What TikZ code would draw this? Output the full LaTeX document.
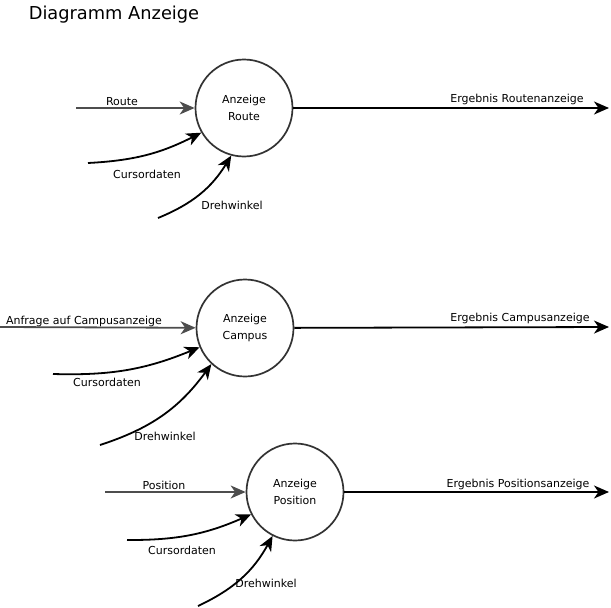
\documentclass[tikz,border=0pt]{standalone}
\usepackage{fontspec}
\setmainfont{DejaVu Sans}
\usetikzlibrary{arrows.meta}
\usetikzlibrary{positioning}
\definecolor{flow-grey}{HTML}{4D4D4D}
\definecolor{ring-grey}{HTML}{333333}

\begin{document}
\begin{tikzpicture}[x=1pt, y=-1pt, font=\fontsize{11}{16.5}\selectfont,
  process/.style={draw=ring-grey, line width=1.7pt, circle, minimum size=97pt, inner sep=0pt, align=center},
  text only/.style={inner sep=1pt, align=center},
  flow/.style={line width=1.8pt, -{Stealth[length=15pt, width=13pt, inset=4.5pt]}},
  query/.style={flow, draw=flow-grey}]
\useasboundingbox (0,0) rectangle (611,608);
\node[text only, font=\fontsize{17.8}{21}\selectfont] (title) at (114,15) {Diagramm Anzeige};
% one process per display
\foreach \name/\x/\y/\what in {
    route/244/108/Route,
    campus/245/328/Campus,
    position/295/492/Position} {
  \node[process] (proc-\name) at (\x,\y) {Anzeige\\\what};
}
% free ends of the flows
\coordinate (in-route) at (76,108);
\coordinate (cur-route) at (88,163);
\coordinate (dreh-route) at (158,218);
\coordinate (out-route) at (609,108);
\coordinate (in-campus) at (0,327);
\coordinate (cur-campus) at (53,374);
\coordinate (dreh-campus) at (100,445);
\coordinate (out-campus) at (609,327);
\coordinate (in-position) at (105,492);
\coordinate (cur-position) at (127,540);
\coordinate (dreh-position) at (198,606);
\coordinate (out-position) at (609,492);
\draw[query] (in-route) -- (proc-route);
\draw[query] (in-campus) -- (proc-campus);
\draw[query] (in-position) -- (proc-position);
\foreach \name/\cur/\dreh in {route/210/255, campus/203/227, position/207/243} {
  \draw[flow] (cur-\name) to[bend right=12] (proc-\name.\cur);
  \draw[flow] (dreh-\name) to[bend right=18] (proc-\name.\dreh);
  \draw[flow] (proc-\name) -- (out-\name);
}
% labels
\node[text only] (lbl-route) at (122,102) {Route};
\node[text only] (lbl-cur-route) at (147,174) {Cursordaten};
\node[text only] (lbl-dreh-route) at (232,205) {Drehwinkel};
\node[text only] (lbl-out-route) at (517,99) {Ergebnis Routenanzeige};
\node[text only] (lbl-campus) at (84,321) {Anfrage auf Campusanzeige};
\node[text only] (lbl-cur-campus) at (107,382) {Cursordaten};
\node[text only] (lbl-dreh-campus) at (165,436) {Drehwinkel};
\node[text only] (lbl-out-campus) at (520,318) {Ergebnis Campusanzeige};
\node[text only] (lbl-position) at (164,485) {Position};
\node[text only] (lbl-cur-position) at (182,550) {Cursordaten};
\node[text only] (lbl-dreh-position) at (266,583) {Drehwinkel};
\node[text only] (lbl-out-position) at (518,484) {Ergebnis Positionsanzeige};
\end{tikzpicture}
\end{document}
